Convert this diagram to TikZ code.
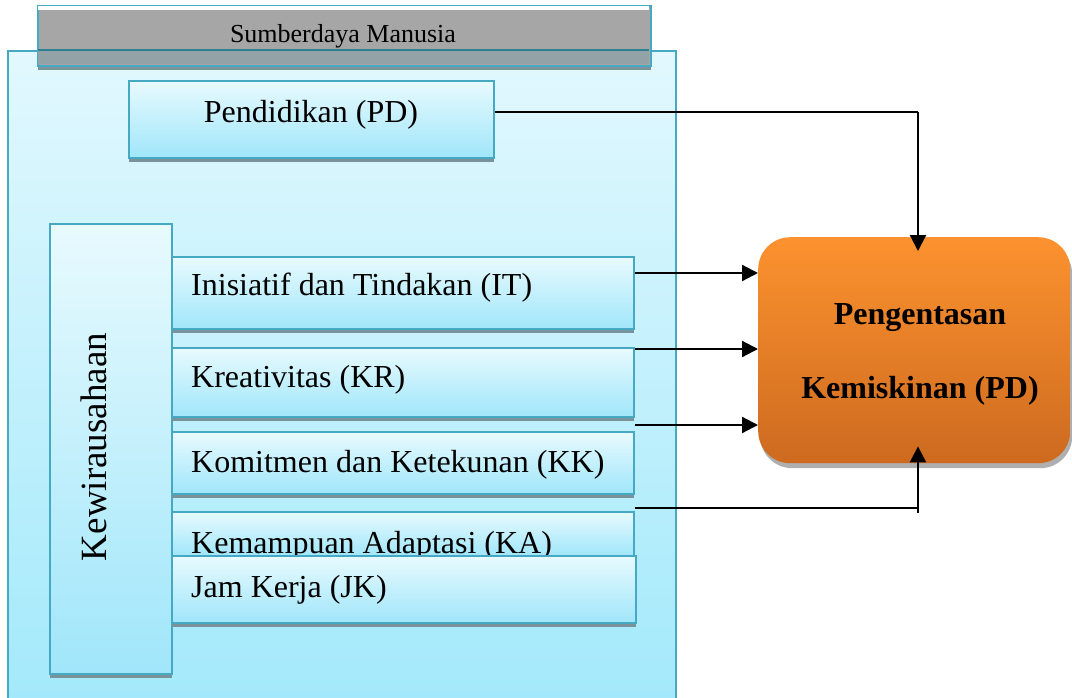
\documentclass[tikz,border=0pt]{standalone}
\usepackage{fontspec}
\setmainfont{Liberation Serif}
\usetikzlibrary{arrows.meta,shadows,calc}
\definecolor{bord}{HTML}{45A9C4}
\definecolor{otop}{HTML}{E2F8FE}
\definecolor{obot}{HTML}{A3E9FB}
\definecolor{btop}{HTML}{E8FAFE}
\definecolor{bbot}{HTML}{A0E6FA}
\definecolor{shad}{HTML}{7A939A}
\definecolor{hgray}{HTML}{A6A6A6}
\definecolor{hbord}{HTML}{45A9C4}
\definecolor{hover}{HTML}{93A2A6}
\definecolor{odark}{HTML}{2F7F93}
\definecolor{ortop}{HTML}{FC922F}
\definecolor{orbot}{HTML}{CD6A1F}
\tikzset{
  outerbox/.style={draw=bord, line width=1.7pt, top color=otop, bottom color=obot, rectangle, anchor=north west, inner sep=0pt},
  bx/.style={draw=bord, line width=1.7pt, top color=btop, bottom color=bbot, rectangle, anchor=north west, inner sep=0pt,
    drop shadow={shadow xshift=0pt, shadow yshift=-4pt, fill=shad, opacity=1}},
  bxns/.style={draw=bord, line width=1.7pt, top color=btop, bottom color=bbot, rectangle, anchor=north west, inner sep=0pt},
  lbl/.style={anchor=base west, inner sep=0pt, font=\fontsize{32}{38}\selectfont},
  clbl/.style={anchor=base, inner sep=0pt, font=\fontsize{32}{38}\selectfont},
  obl/.style={anchor=base, inner sep=0pt, font=\fontsize{32}{38}\selectfont\bfseries},
  conn/.style={line width=2.2pt, black},
  arr/.style={line width=2.2pt, black, -{Triangle[length=16pt,width=16pt]}},
}
\begin{document}
\begin{tikzpicture}[x=1pt,y=-1pt]
\useasboundingbox (0,0) rectangle (1072,697);
% outer box
\node[outerbox, minimum width=668pt, minimum height=655pt] (sdm) at (7,50) {};
% header
\node[draw=hbord, line width=1.7pt, fill=hgray, anchor=north west, inner sep=0pt,
      minimum width=613pt, minimum height=60pt,
      drop shadow={shadow xshift=0pt, shadow yshift=-4pt, fill=shad, opacity=1}] (hdr) at (37,5) {};
\fill[white] (37.9,5.9) rectangle (649.1,10);
\fill[hover] (37.9,50) rectangle (649.1,64.1);
\draw[odark, line width=1.7pt] (37.9,50) -- (649.1,50);
\node[anchor=base, inner sep=0pt, font=\fontsize{26}{30}\selectfont] (hdrt) at (343,42) {Sumberdaya Manusia};
% Pendidikan
\node[bx, minimum width=365pt, minimum height=77pt] (pd) at (128,80) {};
\node[clbl] (pdt) at (311,122) {Pendidikan (PD)};
% Kewirausahaan
\node[bx, minimum width=122pt, minimum height=450pt] (kw) at (49,223) {};
\node[rotate=90, inner sep=0pt, font=\fontsize{37}{40}\selectfont] (kwt) at (94,447) {Kewirausahaan};
% sub boxes
\node[bx, minimum width=462pt, minimum height=72pt] (it) at (171,256) {};
\node[lbl] (itt) at (191,295) {Inisiatif dan Tindakan (IT)};
\node[bx, minimum width=462pt, minimum height=69pt] (kr) at (171,347) {};
\node[lbl] (krt) at (191,387) {Kreativitas (KR)};
\node[bx, minimum width=462pt, minimum height=62pt] (kk) at (171,431) {};
\node[lbl] (kkt) at (191,472) {Komitmen dan Ketekunan (KK)};
\node[bxns, minimum width=462pt, minimum height=44pt] (ka) at (171,511) {};
\node[lbl] (kat) at (191,553) {Kemampuan Adaptasi (KA)};
\node[bx, minimum width=464pt, minimum height=67pt] (jk) at (171,555) {};
\node[lbl] (jkt) at (191,597) {Jam Kerja (JK)};
% orange box
\node[draw=none, top color=ortop, bottom color=orbot, rounded corners=32pt, anchor=north west,
      minimum width=312pt, minimum height=226pt, inner sep=0pt,
      drop shadow={shadow xshift=2pt, shadow yshift=-5pt, fill=black!35, opacity=0.9}] (pk) at (758,237) {};
\node[obl] (pk1) at (920,324) {Pengentasan};
\node[obl] (pk2) at (920,398) {Kemiskinan (PD)};
% connectors
\coordinate (c1) at (918,112);
\coordinate (y1) at (0,273);
\coordinate (y2) at (0,349);
\coordinate (y3) at (0,425);
\coordinate (y4) at (0,508);
\coordinate (c4) at (918,508);
\coordinate (c5) at (918,513);
\coordinate (ptop) at ($(c1 |- pk.north)+(0,14)$);
\coordinate (pbot) at ($(c1 |- pk.south)+(0,-17)$);
\draw[conn] (pd.east |- c1) -- (c1);
\draw[arr] (c1) -- (ptop);
\draw[arr] (it.east |- y1) -- (pk.west |- y1);
\draw[arr] (kr.east |- y2) -- (pk.west |- y2);
\draw[arr] (kk.east |- y3) -- (pk.west |- y3);
\draw[conn] (ka.east |- y4) -- (c4);
\draw[arr] (c5) -- (pbot);
\end{tikzpicture}
\end{document}
